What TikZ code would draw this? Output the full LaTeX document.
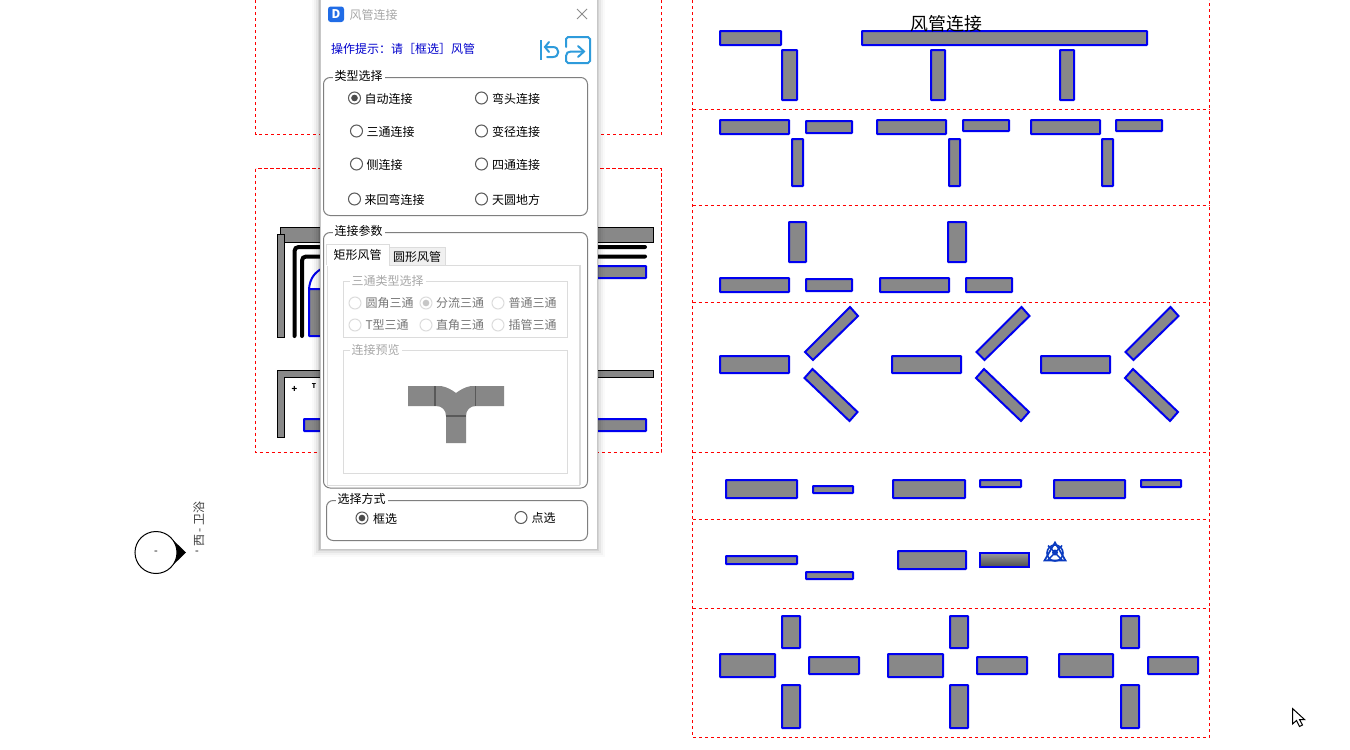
\documentclass[tikz,border=0pt]{standalone}
\usepackage{fontspec}
\setmainfont{Noto Sans CJK SC}
\tikzset{every picture/.style={line width=0.75pt}}
\definecolor{ductgray}{HTML}{888888}
\definecolor{ductblue}{HTML}{0000F0}
\definecolor{iconblue}{HTML}{2E9BDB}
\definecolor{framegray}{HTML}{7F7F7F}
\definecolor{lightframe}{HTML}{DCDCDC}
\definecolor{dimtext}{HTML}{A8A8A8}
\definecolor{snapblue}{HTML}{0A3BC0}
\tikzset{
  zone/.style={draw=red,line width=0.75pt,dash pattern=on 2.6pt off 1.9pt},
  duct/.style={draw=ductblue,fill=ductgray,line width=1.5pt,rounded corners=0.4pt},
  wall/.style={draw=black,fill=ductgray,line width=0.75pt},
  thickline/.style={draw=black,line width=3pt,line cap=round,rounded corners=3pt},
  groupbox/.style={draw=framegray,line width=0.75pt,rounded corners=5pt},
  lightbox/.style={draw=lightframe,line width=0.75pt},
  txt/.style={anchor=west,inner sep=0pt,font=\fontsize{9}{9}\selectfont},
  dimtxt/.style={txt,text=dimtext!70!black},
  legend/.style={txt,fill=white,inner xsep=1.5pt,inner ysep=0pt},
  radiobtn/.style={circle,draw=black!65,fill=white,minimum size=9pt,inner sep=0pt,line width=0.75pt},
  dimradio/.style={circle,draw=lightframe,fill=white,minimum size=9pt,inner sep=0pt,line width=0.75pt},
  dot/.style={circle,fill=black!70,minimum size=5pt,inner sep=0pt},
  dimdot/.style={circle,fill=black!22,minimum size=5pt,inner sep=0pt},
}
\begin{document}
\begin{tikzpicture}[x=0.75pt,y=0.75pt,yscale=-1,xscale=1]
\useasboundingbox (0,0) rectangle (1350,750);

%left zones
\draw[zone] (255.5,0) -- (255.5,134.5) -- (661.5,134.5) -- (661.5,0);
\draw[zone] (255.5,168.5) rectangle (661.5,452.5);

%walls behind the dialog
\draw[wall] (280,227.5) rectangle (653.5,242);
\draw[wall] (277,234.5) rectangle (284,337.5);
\draw[wall] (277,370) -- (653.5,370) -- (653.5,377.5) -- (284,377.5) -- (284,437.5) -- (277,437.5) -- cycle;
\draw[thickline] (294.5,336) -- (294.5,247) -- (645,247);
\draw[thickline] (302,336) -- (302,256.5) -- (645,256.5);
\draw[duct] (597,266) rectangle (646,278);
\draw[duct] (309,289) rectangle (340,336);
\draw[draw=ductblue,line width=1.5pt] (309,289) .. controls (310,278) and (315,272) .. (323,268);
\draw[duct] (304,419) rectangle (646,431);
\node[txt,anchor=center,font=\fontsize{7}{7}\selectfont\bfseries] (markplus) at (294.5,389) {+};
\node[txt,anchor=center,font=\fontsize{5}{5}\selectfont\bfseries] (markt) at (314,386) {T};

%right zones
\draw[zone] (692.5,0) -- (692.5,737.5) -- (1209.5,737.5) -- (1209.5,0);
\foreach \rowy in {109.5,205.5,302.5,452.5,519.5,608.5}
  \draw[zone] (692.5,\rowy) -- (1209.5,\rowy);

%ducts, straight ones
\foreach \xa/\ya/\xb/\yb in {
  720/31/781/45, 782/50/797/100, 862/31/1147/45, 931/50/945/100, 1060/50/1074/100,
  720/120/789/134, 806/121/852/133, 792/139/803/186,
  877/120/946/134, 963/120/1009/131, 949/139/960/186,
  1031/120/1100/134, 1116/120/1162/131, 1102/139/1113/186,
  789/222/806/262, 720/278/789/292, 806/279/852/291,
  948/222/966/262, 880/278/949/292, 966/278/1012/292,
  720/356/789/373, 892/356/961/373, 1041/356/1110/373,
  726/480/797/498, 813/486/853/493,
  893/480/965/498, 980/480/1021/487,
  1054/480/1125/498, 1141/480/1181/487,
  726/556/797/564, 806/572/853/579, 898/551/966/569,
  782/616/800/648, 720/654/775/677, 809/657/859/674, 782/685/800/728,
  950/616/968/648, 888/654/943/677, 977/657/1027/674, 950/685/968/728,
  1121/616/1139/648, 1059/654/1113/677, 1148/657/1198/674, 1121/685/1139/728}
  \draw[duct] (\xa,\ya) rectangle (\xb,\yb);

%ducts, slanted ones
\foreach \dx in {0,171.5,320.5}{
  \draw[duct,rounded corners=0pt] (805+\dx,352) -- (850+\dx,307) -- (858+\dx,316) -- (813+\dx,360) -- cycle;
  \draw[duct,rounded corners=0pt] (804.5+\dx,378) -- (812.5+\dx,369) -- (857.5+\dx,412) -- (849.5+\dx,421) -- cycle;
}

\node[txt,anchor=center,font=\fontsize{13.4}{13.4}\selectfont] (sheettitle) at (946.5,24) {风管连接};

%selected duct
\draw[draw=ductblue,line width=1.5pt,top color=ductgray!85,bottom color=black!70] (980,553) rectangle (1029,567);

%snap mark
\draw[draw=snapblue,line width=1.3pt] (1044.5,560.5) -- (1055,542.5) -- (1065.5,560.5) -- cycle;
\draw[draw=snapblue,line width=1.2pt] (1055,553) circle (8);
\draw[draw=snapblue,line width=1.1pt] (1048,545.5) -- (1062,560) (1062,545.5) -- (1048,560);
\fill[snapblue] (1055,552.5) circle (3);

%level symbol
\fill[black] (170,537) -- (186,552.5) -- (170,568) -- cycle;
\node[circle,draw=black,fill=white,minimum size=31.5pt,inner sep=0pt,line width=0.75pt] (levelmark) at (156,552.5) {};
\node[txt,anchor=center,font=\fontsize{8}{8}\selectfont] (levelname) at (156,552.5) {-};
\node[txt,anchor=center,text=black!75,rotate=90] (levelzone) at (199,524) {西 - 卫浴};
\node[txt,anchor=center,font=\fontsize{8}{8}\selectfont] (levelend) at (197,552.5) {-};

%dialog shadow
\foreach \grow/\op in {8/0.02,6/0.03,4/0.05,2/0.08,1/0.1}
  \fill[black,opacity=\op] (320-\grow,-10) rectangle (597+\grow,549+\grow);
\draw[draw=black!22,fill=white,line width=0.75pt] (320,-2) rectangle (597,549);

%title bar
\fill[iconblue!70!blue,rounded corners=2pt] (328,6.5) rectangle (344,22);
\node[txt,anchor=center,text=white,font=\fontsize{9}{9}\selectfont\bfseries] (appmark) at (336,14) {D};
\node[txt,text=dimtext] (dlgtitle) at (349,14.5) {风管连接};
\draw[draw=black!45,line width=0.75pt] (577,9) -- (587,19) (587,9) -- (577,19);

\node[txt,text=ductblue!85!black] (hint) at (330.5,48.5) {操作提示：请［框选］风管};

%undo icon
\draw[draw=iconblue,line width=1.5pt] (541,40) -- (541,60);
\draw[draw=iconblue,line width=1.5pt,line cap=round] (549,42) -- (545,47) -- (549,52);
\draw[draw=iconblue,line width=1.5pt,line cap=round] (545,47) -- (553,47) .. controls (560,47) and (560,57) .. (553,57) -- (547,57);
%exit icon
\draw[draw=iconblue,line width=1.5pt,line cap=round] (566,47) -- (566,39) -- (568,37) -- (588,37) -- (590,39) -- (590,61) -- (588,63) -- (568,63) -- (566,61) -- (566,56) .. controls (566,53) and (568,51.5) .. (571,51.5) -- (583,51.5);
\draw[draw=iconblue,line width=1.5pt,line cap=round] (578,46) -- (584,51.5) -- (578,57);

%type group
\draw[groupbox] (323.5,77.5) rectangle (587.5,215.5);
\node[legend] (typelabel) at (332,75.5) {类型选择};
\foreach \bx/\by/\tx/\txtlabel/\nm in {
  354/98/364/自动连接/auto, 481/98/491.5/弯头连接/elbow,
  356/131/366/三通连接/tee, 481/131/491.5/变径连接/reducer,
  356/164/366/侧连接/side, 481/164/491.5/四通连接/cross,
  354/199/364/来回弯连接/bend, 481/199/491.5/天圆地方/square}{
  \node[radiobtn] (btn\nm) at (\bx+0.5,\by) {};
  \node[txt] (lab\nm) at (\tx,\by+0.5) {\txtlabel};
}
\node[dot] (dotauto) at (btnauto) {};

%parameter group
\draw[groupbox] (323.5,232.5) rectangle (587.5,488);
\node[legend] (paramlabel) at (332,230.5) {连接参数};
\draw[lightbox,fill=white] (327,265) rectangle (579,485);
\draw[lightbox] (580.5,265) -- (580.5,485);
\draw[lightbox,fill=black!6] (389,247) rectangle (445,265);
\draw[lightbox,fill=white] (326,265) -- (326,244) -- (389,244) -- (389,265);
\draw[white,line width=1pt] (327,265) -- (388.5,265);
\node[txt] (tabrect) at (333,254.5) {矩形风管};
\node[txt] (tabround) at (392.5,256.5) {圆形风管};

%tee group
\draw[lightbox] (343.5,281.5) rectangle (567.5,337.5);
\node[legend,text=dimtext] (teelabel) at (349,280.5) {三通类型选择};
\foreach \bx/\by/\tx/\txtlabel/\nm in {
  355/302/365/圆角三通/rnd, 426/302/435.5/分流三通/split, 498/302/508/普通三通/plain,
  355/324/365/T型三通/ttype, 426/324/435.5/直角三通/right, 498/324/508/插管三通/stub}{
  \node[dimradio] (btn\nm) at (\bx,\by+1) {};
  \node[dimtxt] (lab\nm) at (\tx,\by+1) {\txtlabel};
}
\node[dimdot] (dotsplit) at (btnsplit) {};

%preview
\draw[lightbox] (343.5,350.5) rectangle (567.5,473.5);
\node[legend,text=dimtext] (previewlabel) at (349,349.5) {连接预览};
\fill[black!47] (408,386) -- (441,386) .. controls (447,387) and (452,390) .. (456,393) .. controls (460,390) and (465,387) .. (471,386) -- (504,386) -- (504,406) -- (476,406) .. controls (470,406) and (466,410) .. (466,416) -- (466,443) -- (446,443) -- (446,416) .. controls (446,410) and (442,406) .. (436,406) -- (408,406) -- cycle;
\draw[draw=black!65,line width=0.9pt] (435,386) -- (435,406) (475.5,386) -- (475.5,406) (446,416) -- (466,416);

%select group
\draw[groupbox] (326.5,500.5) rectangle (587.5,540.5);
\node[legend] (pickLabel) at (335,498.5) {选择方式};
\node[radiobtn] (btnbox) at (362,518) {};
\node[dot] (dotbox) at (btnbox) {};
\node[txt] (labbox) at (372.5,518.5) {框选};
\node[radiobtn] (btnpoint) at (521,517.5) {};
\node[txt] (labpoint) at (531,517.5) {点选};

%mouse pointer
\draw[draw=black,fill=white,line width=0.75pt] (1292.5,708.5) -- (1292.5,724) -- (1296.5,720.5) -- (1299.5,726.5) -- (1302.5,725) -- (1299.5,719.5) -- (1304.5,719.5) -- cycle;
\end{tikzpicture}
\end{document}
